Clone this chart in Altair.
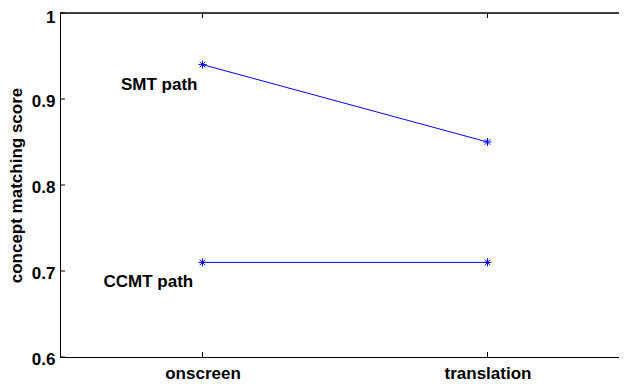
import altair as alt
import pandas as pd

categories = ["onscreen", "translation"]
cat_pos = [1, 2]
smt_values = [0.94, 0.85]
ccmt_values = [0.71, 0.71]
series_names = ["SMT path", "CCMT path"]
label_x = [0.848, 0.810]
label_y = [0.9105, 0.681]
y_ticks = [0.6, 0.7, 0.8, 0.9, 1.0]

W_VIS, W_FULL, H = 559, 570, 344
BLUE = "#0000ff"
FONT = "Liberation Sans"
FS = 17

rows = []
for name, vals in zip(series_names, [smt_values, ccmt_values]):
    for c, p, v in zip(categories, cat_pos, vals):
        rows.append({"series": name, "cat": c, "pos": p, "value": v})
df = pd.DataFrame(rows)
labels_df = pd.DataFrame({"name": series_names, "lx": label_x, "ly": label_y})
yt_df = pd.DataFrame({"v": y_ticks})
xt_df = pd.DataFrame({"p": cat_pos})

label_expr = " : ".join(
    [f"datum.value == {p} ? '{c}'" for p, c in zip(cat_pos, categories)]
) + " : ''"

xscale = alt.Scale(domain=[0.5, 2.5], range=[0, W_FULL])
yscale = alt.Scale(domain=[0.6, 1.0])

x_enc = alt.X(
    "pos:Q",
    scale=xscale,
    axis=alt.Axis(
        values=cat_pos, labelExpr=label_expr, title=None, ticks=False,
        grid=False, labelFont=FONT, labelFontWeight="bold", labelFontSize=FS,
        labelColor="black", labelPadding=8, domainColor="black", domainWidth=1,
    ),
)
y_enc = alt.Y(
    "value:Q",
    scale=yscale,
    axis=alt.Axis(
        values=y_ticks, format="~g", title="concept matching score", ticks=False,
        grid=False, labelFont=FONT, labelFontWeight="bold", labelFontSize=FS,
        labelColor="black", labelPadding=5,
        labelOffset={"condition": {"test": "datum.value >= 0.999", "value": 4}, "value": 2},
        titleFont=FONT, titleFontWeight="bold",
        titleFontSize=FS, titleColor="black", titlePadding=5.5,
        domainColor="black", domainWidth=1,
    ),
)

lines = alt.Chart(df).mark_line(color=BLUE, strokeWidth=1).encode(
    x=x_enc, y=y_enc, detail="series:N"
)
asterisk = "M-1,0L1,0M0,-1L0,1M-0.7,-0.7L0.7,0.7M-0.7,0.7L0.7,-0.7"
points = alt.Chart(df).mark_point(
    shape=asterisk, size=64, stroke=BLUE, filled=False, strokeWidth=1, opacity=1
).encode(x=alt.X("pos:Q", scale=xscale), y=alt.Y("value:Q", scale=yscale))

texts = alt.Chart(labels_df).mark_text(
    font=FONT, fontWeight="bold", fontSize=FS, color="black", align="center",
    baseline="alphabetic",
).encode(
    x=alt.X("lx:Q", scale=xscale), y=alt.Y("ly:Q", scale=yscale), text="name:N"
)

ytick_l = alt.Chart(yt_df).mark_rule(color="black", strokeWidth=1).encode(
    y=alt.Y("v:Q", scale=yscale), x=alt.value(0), x2=alt.value(5)
)
xtick_b = alt.Chart(xt_df).mark_rule(color="black", strokeWidth=1).encode(
    x=alt.X("p:Q", scale=xscale), y=alt.value(H - 5), y2=alt.value(H)
)
xtick_t = alt.Chart(xt_df).mark_rule(color="black", strokeWidth=1).encode(
    x=alt.X("p:Q", scale=xscale), y=alt.value(0), y2=alt.value(5)
)
top_border = alt.Chart(xt_df).mark_rule(color="black", strokeWidth=1).encode(
    x=alt.value(0), x2=alt.value(W_FULL), y=alt.value(0)
)

chart = (
    alt.layer(lines, points, texts, ytick_l, xtick_b, xtick_t, top_border)
    .properties(
        width=W_VIS, height=H,
        autosize=alt.AutoSizeParams(type="none"),
        padding={"left": 52, "top": 5, "right": 0, "bottom": 27},
    )
    .configure_view(strokeWidth=0)
    .configure(background="white")
)

chart.save("out.html", embed_options={"renderer": "svg", "actions": False})
